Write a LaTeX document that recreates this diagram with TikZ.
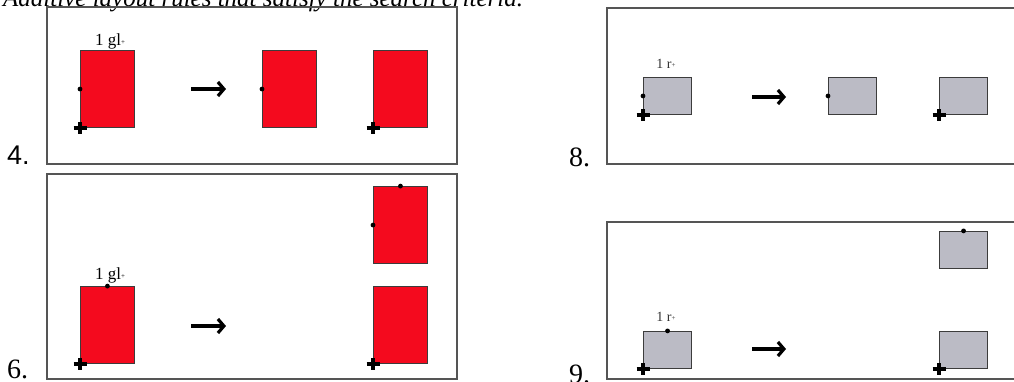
\documentclass[tikz,border=0pt]{standalone}
\usepackage{fontspec}
\setmainfont{Liberation Serif}
\newfontfamily\numsans{Liberation Sans}
\usetikzlibrary{arrows.meta,calc}
\definecolor{boxred}{RGB}{244,10,30}
\definecolor{boxgray}{RGB}{187,187,197}
\definecolor{framegray}{RGB}{85,85,85}
\definecolor{edgegray}{RGB}{60,60,60}
\tikzset{
  panel/.style={draw=framegray,line width=2pt},
  redbox/.style={draw=edgegray,line width=0.9pt,fill=boxred,minimum width=54pt,minimum height=77pt,inner sep=0pt,anchor=south west},
  graybox/.style={draw=edgegray,line width=1.1pt,fill=boxgray,minimum width=48pt,minimum height=37pt,inner sep=0pt,anchor=south west},
  crossmark/.style={line width=3.2pt,black},
  bigarrow/.style={line width=3.6pt,-{Straight Barb[length=6pt,width=14pt,line width=3.2pt]}},
  panellabel/.style={font=\fontsize{28}{30}\selectfont,anchor=base west,inner sep=0pt},
  rulelabel/.style={font=\fontsize{17}{18}\selectfont,anchor=base,inner sep=0pt},
  smalllabel/.style={font=\fontsize{14}{15}\selectfont,anchor=base,inner sep=0pt,text=black!80}
}
\newcommand{\crossat}[1]{\draw[crossmark] ($(#1)+(-6.5,0)$) -- ($(#1)+(6.5,0)$) ($(#1)+(0,-6)$) -- ($(#1)+(0,6)$);}
\newcommand{\dotat}[1]{\fill (#1) circle (2.4);}
\begin{document}
\begin{tikzpicture}[x=1pt,y=-1pt]
\useasboundingbox (0,0) rectangle (1014,381);
\clip (0,0) rectangle (1014,381);
% cut-off caption
\node[font=\fontsize{25}{28}\selectfont\itshape,anchor=base west,inner sep=0pt] (cap) at (3,6) {Additive layout rules that satisfy the search criteria.};
% frames
\draw[panel] (47,7) rectangle (457,164);
\draw[panel] (47,174) rectangle (457,379);
\draw[panel] (607,8) rectangle (1030,164);
\draw[panel] (607,222) rectangle (1030,379);
% panel labels
\node[panellabel,font=\numsans\fontsize{27}{30}\selectfont] (l4) at (7,164) {4.};
\node[panellabel] (l6) at (7,378) {6.};
\node[panellabel] (l8) at (569,166) {8.};
\node[panellabel] (l9) at (569,383) {9.};
% ---- panel 4
\node[redbox] (a1) at (80,128) {};
\node[redbox] (a2) at (262,128) {};
\node[redbox] (a3) at (373,128) {};
\node[rulelabel] (ta1) at (110,45) {1 gl\raisebox{0.5pt}{\scriptsize+}};
\dotat{a1.west}\dotat{a2.west}
\crossat{a1.south west}\crossat{a3.south west}
\coordinate (p4s) at (191,89); \coordinate (p4e) at (226,89);
\draw[bigarrow] (p4s) -- (p4e);
% ---- panel 6
\node[redbox] (b1) at (80,364) {};
\node[redbox] (b2) at (373,264) {};
\node[redbox] (b3) at (373,364) {};
\node[rulelabel] (tb1) at (110,279) {1 gl\raisebox{0.5pt}{\scriptsize+}};
\dotat{b1.north}\dotat{b2.north}\dotat{b2.west}
\crossat{b1.south west}\crossat{b3.south west}
\coordinate (p6s) at (191,326); \coordinate (p6e) at (226,326);
\draw[bigarrow] (p6s) -- (p6e);
% ---- panel 8
\node[graybox] (c1) at (643,115) {};
\node[graybox] (c2) at (828,115) {};
\node[graybox] (c3) at (939,115) {};
\node[smalllabel] (tc1) at (666,68) {1 r\raisebox{0.5pt}{\scriptsize+}};
\dotat{c1.west}\dotat{c2.west}
\crossat{c1.south west}\crossat{c3.south west}
\coordinate (p8s) at (752,97); \coordinate (p8e) at (786,97);
\draw[bigarrow] (p8s) -- (p8e);
% ---- panel 9
\node[graybox] (d1) at (643,369) {};
\node[graybox] (d2) at (939,269) {};
\node[graybox] (d3) at (939,369) {};
\node[smalllabel] (td1) at (666,321) {1 r\raisebox{0.5pt}{\scriptsize+}};
\dotat{d1.north}\dotat{d2.north}
\crossat{d1.south west}\crossat{d3.south west}
\coordinate (p9s) at (752,349); \coordinate (p9e) at (786,349);
\draw[bigarrow] (p9s) -- (p9e);
\end{tikzpicture}
\end{document}
